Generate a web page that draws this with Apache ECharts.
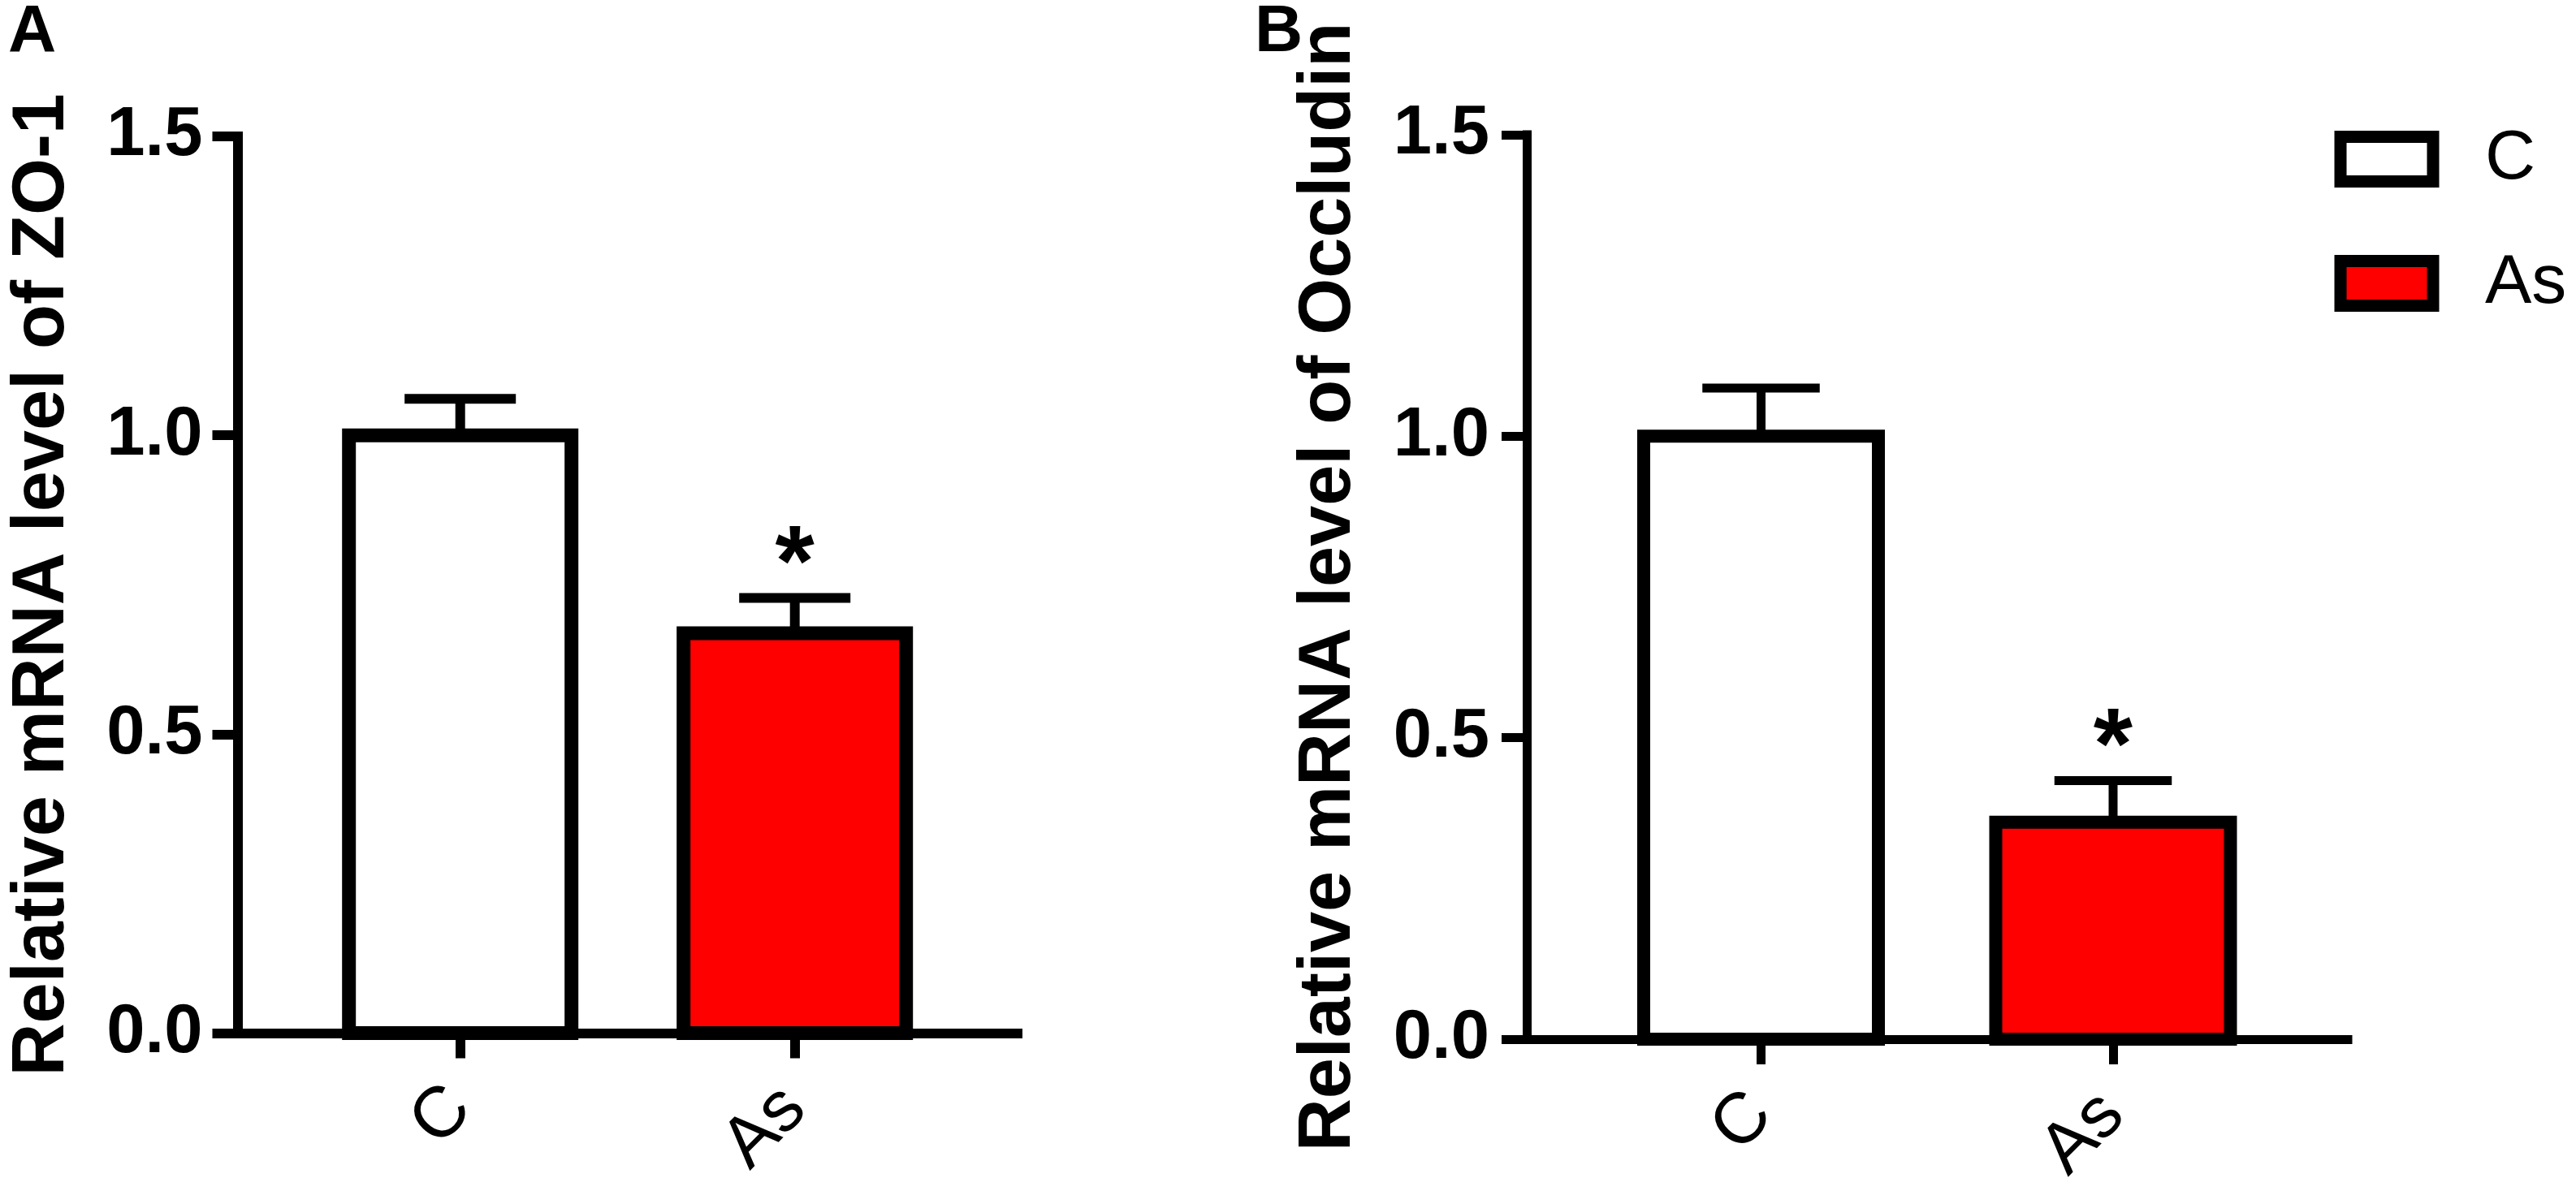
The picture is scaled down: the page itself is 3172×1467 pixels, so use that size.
<!DOCTYPE html>
<html>
<head>
<meta charset="utf-8">
<script src="https://cdn.jsdelivr.net/npm/echarts/dist/echarts.min.js"></script>
<style>
  html, body { margin: 0; padding: 0; background: #fff; }
  #chart { width: 3172px; height: 1467px; }
</style>
</head>
<body>
<div id="chart"></div>
<script>
// groups and values
const categories = ['C', 'As'];
const zo1Mean = [1.0, 0.669];
const zo1Sem = [0.061, 0.059];
const zo1Sig = ['', '*'];
const occMean = [1.0, 0.36];
const occSem = [0.08, 0.069];
const occSig = ['', '*'];
const yMin = 0;
const yMax = 1.5;
const yStep = 0.5;

const FONT = '"Liberation Sans", Arial, sans-serif';
const barColors = ['#ffffff', '#ff0000'];

// layout of the two panels (pixels)
const panels = [
  {
    title: 'Relative mRNA level of ZO-1', mean: zo1Mean, sem: zo1Sem, sig: zo1Sig,
    axisX: 292.5, axisEnd: 1253, top: 168, bottom: 1272.5,
    firstX: 566.7, step: 412, barW: 274, border: 17, line: 12,
    labelMargin: 43, nameGap: 194
  },
  {
    title: 'Relative mRNA level of Occludin', mean: occMean, sem: occSem, sig: occSig,
    axisX: 1880, axisEnd: 2891, top: 166, bottom: 1280,
    firstX: 2168.5, step: 433.5, barW: 289, border: 16, line: 11,
    labelMargin: 46, nameGap: 198
  }
];

// bar drawn with its outline centred on the value, like the original
function barItem(p, ci) {
  return function (params, api) {
    const i = api.value(0);
    const top = api.coord([i, api.value(1)]);
    const base = api.coord([i, yMin]);
    return {
      type: 'rect',
      shape: { x: top[0] - p.barW / 2, y: top[1], width: p.barW, height: base[1] - top[1] },
      style: { fill: barColors[ci], stroke: '#000', lineWidth: p.border }
    };
  };
}

function errorItem(p) {
  return function (params, api) {
    const i = api.value(0);
    const base = api.coord([i, api.value(1)]);
    const top = api.coord([i, api.value(2)]);
    const half = p.barW / 4;
    const children = [
      { type: 'line', shape: { x1: base[0], y1: base[1], x2: top[0], y2: top[1] },
        style: { stroke: '#000', lineWidth: p.line } },
      { type: 'line', shape: { x1: top[0] - half, y1: top[1], x2: top[0] + half, y2: top[1] },
        style: { stroke: '#000', lineWidth: p.line } }
    ];
    const s = p.sig[params.dataIndex];
    if (s) {
      children.push({
        type: 'text', x: top[0], y: top[1] - 37,
        style: { text: s, fill: '#000', fontSize: 124, fontWeight: 'bold', fontFamily: FONT,
                 align: 'center', verticalAlign: 'middle' }
      });
    }
    return { type: 'group', children: children };
  };
}

const grid = [], xAxis = [], yAxis = [], series = [];

panels.forEach((p, k) => {
  const h = p.bottom - p.top;
  const lineStyle = { color: '#000', width: p.line, cap: 'square' };
  // frame grid: y axis and the full x axis line
  grid.push({ left: p.axisX, top: p.top, width: p.axisEnd - p.axisX, height: h, outerBoundsMode: 'none' });
  // bar grid: category positions
  grid.push({ left: p.firstX - p.step / 2, top: p.top, width: p.step * 2, height: h, outerBoundsMode: 'none' });

  xAxis.push({
    gridIndex: 2 * k, type: 'value', min: 0, max: 1,
    axisLine: { show: true, onZero: false, lineStyle: lineStyle },
    axisTick: { show: false }, axisLabel: { show: false }, splitLine: { show: false }
  });
  yAxis.push({
    gridIndex: 2 * k, type: 'value', min: yMin, max: yMax, interval: yStep,
    axisLine: { show: true, onZero: false, lineStyle: lineStyle },
    axisTick: { show: true, length: 31, lineStyle: { color: '#000', width: p.line } },
    axisLabel: {
      formatter: v => v.toFixed(1), fontSize: 85, fontWeight: 'bold', color: '#000',
      fontFamily: FONT, margin: p.labelMargin, showMinLabel: true, showMaxLabel: true
    },
    splitLine: { show: false },
    name: p.title, nameLocation: 'middle', nameGap: p.nameGap,
    nameTextStyle: { fontSize: 90, fontWeight: 'bold', color: '#000', fontFamily: FONT }
  });

  xAxis.push({
    gridIndex: 2 * k + 1, type: 'category', data: categories,
    axisLine: { show: false },
    axisTick: { show: true, alignWithLabel: true, length: 31, lineStyle: { color: '#000', width: p.line } },
    axisLabel: { rotate: 45, margin: 80, fontSize: 88, color: '#000', fontFamily: FONT, interval: 0 },
    splitLine: { show: false }
  });
  yAxis.push({ gridIndex: 2 * k + 1, type: 'value', min: yMin, max: yMax, show: false, splitLine: { show: false } });

  categories.forEach((cat, ci) => {
    series.push({
      name: cat, type: 'custom', xAxisIndex: 2 * k + 1, yAxisIndex: 2 * k + 1,
      data: [[ci, p.mean[ci]]],
      encode: { x: 0, y: 1 },
      itemStyle: { color: barColors[ci], borderColor: '#000', borderWidth: p.border },
      renderItem: barItem(p, ci), silent: true, z: 3
    });
  });

  series.push({
    type: 'custom', xAxisIndex: 2 * k + 1, yAxisIndex: 2 * k + 1,
    data: categories.map((c, i) => [i, p.mean[i], p.mean[i] + p.sem[i]]),
    encode: { x: 0, y: [1, 2] },
    renderItem: errorItem(p), silent: true, z: 5
  });
});

const chart = echarts.init(document.getElementById('chart'));
chart.setOption({
  backgroundColor: '#fff',
  animation: false,
  title: [
    { text: 'A', left: 10, top: -1, padding: 0,
      textStyle: { fontSize: 82, fontWeight: 'bold', color: '#000', fontFamily: FONT } },
    { text: 'B', left: 1545, top: -1, padding: 0,
      textStyle: { fontSize: 82, fontWeight: 'bold', color: '#000', fontFamily: FONT } }
  ],
  legend: {
    data: categories, orient: 'vertical', left: 2874.5, top: 153, padding: 0,
    itemWidth: 114, itemHeight: 55, itemGap: 67, icon: 'rect', selectedMode: false,
    itemStyle: { color: 'inherit', borderColor: '#000', borderWidth: 15 },
    textStyle: { fontSize: 86, color: '#000', fontFamily: FONT, padding: [0, 0, 0, 59] }
  },
  grid: grid,
  xAxis: xAxis,
  yAxis: yAxis,
  series: series
});
</script>
</body>
</html>
